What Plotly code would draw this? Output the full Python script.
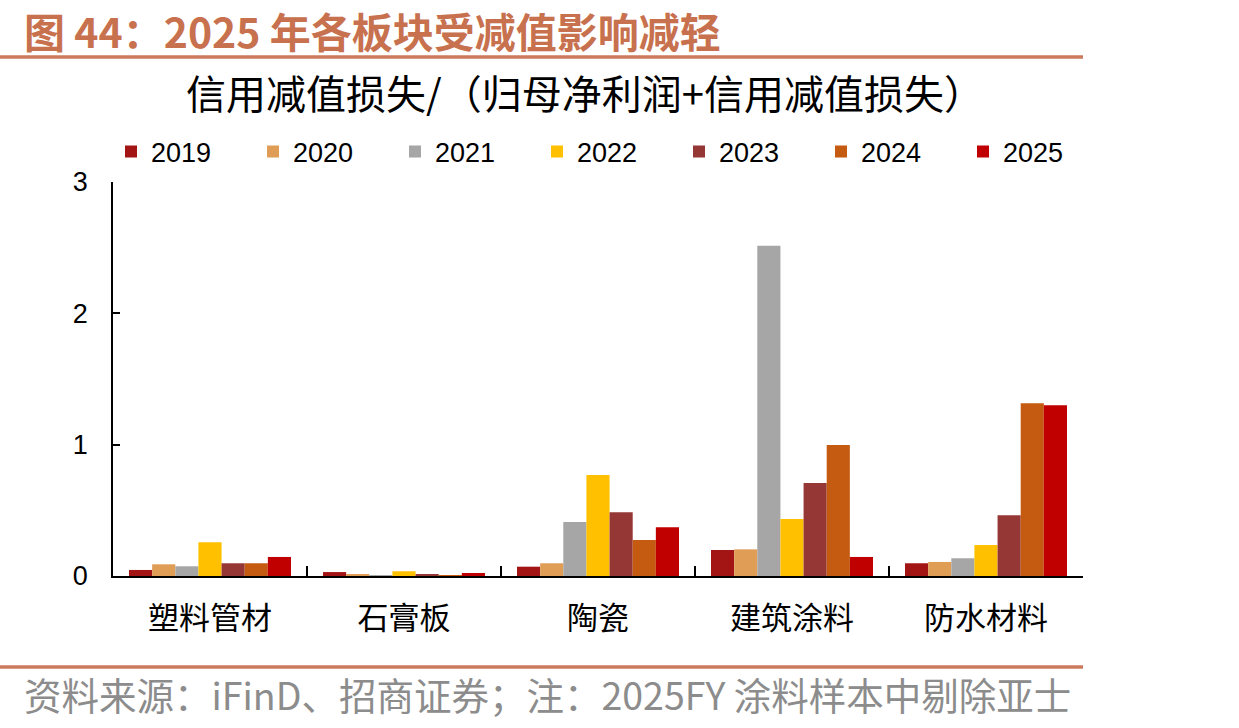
import plotly.graph_objects as go

categories = ["塑料管材", "石膏板", "陶瓷", "建筑涂料", "防水材料"]
years = ["2019", "2020", "2021", "2022", "2023", "2024", "2025"]
values = {
    "2019": [0.046, 0.030, 0.071, 0.198, 0.097],
    "2020": [0.089, 0.013, 0.097, 0.203, 0.107],
    "2021": [0.074, 0.005, 0.411, 2.515, 0.135],
    "2022": [0.257, 0.036, 0.769, 0.434, 0.236],
    "2023": [0.097, 0.008, 0.485, 0.708, 0.462],
    "2024": [0.097, 0.006, 0.274, 0.998, 1.315],
    "2025": [0.145, 0.023, 0.371, 0.145, 1.300],
}
colors = {
    "2019": "#A31515",
    "2020": "#DF9D56",
    "2021": "#A6A6A6",
    "2022": "#FFC000",
    "2023": "#953735",
    "2024": "#C55A11",
    "2025": "#C00000",
}

title_text = "图 44：2025 年各板块受减值影响减轻"
subtitle_text = "信用减值损失/（归母净利润+信用减值损失）"
footer_text = "资料来源：iFinD、招商证券；注：2025FY 涂料样本中剔除亚士"

W, H = 1239, 728
L, R, T, B = 113, 156, 182, 152
pw, ph = W - L - R, H - T - B

def px(x):
    return (x - L) / pw

def py(y):
    return (H - B - y) / ph

fig = go.Figure()
for yr in years:
    fig.add_trace(go.Bar(
        x=categories, y=values[yr], name=yr,
        marker=dict(color=colors[yr], line=dict(width=0)),
    ))

CJK = "Noto Sans CJK SC, sans-serif"
LAT = "Liberation Sans, Arial, sans-serif"
accent = "#C8714E"

fig.update_layout(
    width=W, height=H,
    margin=dict(l=L, r=R, t=T, b=B, pad=0),
    paper_bgcolor="white", plot_bgcolor="white",
    barmode="group", bargap=0.165, bargroupgap=0,
    showlegend=True,
    legend=dict(
        orientation="h", x=px(111), y=py(152), xanchor="left", yanchor="middle",
        font=dict(family=LAT, size=27, color="#000"),
        entrywidth=97, entrywidthmode="pixels",
        itemwidth=30, tracegroupgap=0, bgcolor="rgba(0,0,0,0)",
    ),
    xaxis=dict(
        showline=True, linecolor="#000", linewidth=1.5,
        ticks="inside", tickson="boundaries", ticklen=10, tickcolor="#000", tickwidth=1.5,
        tickfont=dict(family=CJK, size=31, color="#000"),
        ticklabelstandoff=14, showgrid=False, zeroline=False,
    ),
    yaxis=dict(
        range=[0, 3], dtick=1, showline=True, linecolor="#000", linewidth=1.5,
        ticks="inside", ticklen=7, tickcolor="#000", tickwidth=1.5,
        tickfont=dict(family=LAT, size=27, color="#000"),
        ticklabelstandoff=18, showgrid=False, zeroline=False,
    ),
    shapes=[
        dict(type="line", xref="paper", yref="paper", x0=px(0), x1=px(1083),
             y0=py(57), y1=py(57), line=dict(color="#CC7A5C", width=3.5)),
        dict(type="line", xref="paper", yref="paper", x0=px(0), x1=px(1083),
             y0=py(667), y1=py(667), line=dict(color="#CC7A5C", width=3.5)),
    ],
    annotations=[
        dict(text="<b>" + title_text + "</b>", xref="paper", yref="paper",
             x=px(22), y=py(30), xanchor="left", yanchor="middle", showarrow=False,
             font=dict(family=CJK, size=41, color=accent)),
        dict(text=subtitle_text, xref="paper", yref="paper",
             x=px(585), y=py(92), xanchor="center", yanchor="middle", showarrow=False,
             font=dict(family=CJK, size=40, color="#000")),
        dict(text=footer_text, xref="paper", yref="paper",
             x=px(22), y=py(693), xanchor="left", yanchor="middle", showarrow=False,
             font=dict(family=CJK, size=37.5, color="#8C8C8C")),
    ],
)

fig.write_html("out.html")
